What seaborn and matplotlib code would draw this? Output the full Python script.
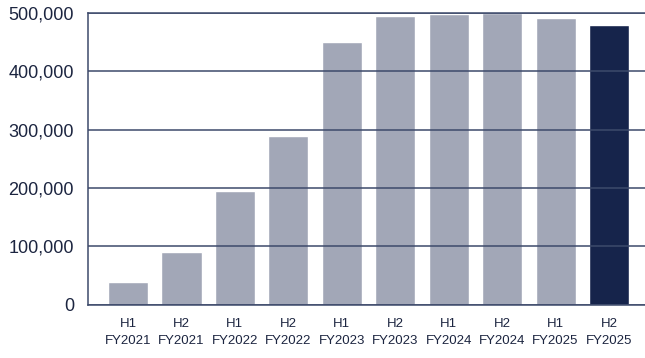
import matplotlib
matplotlib.use("Agg")
import matplotlib.pyplot as plt
import seaborn as sns
import pandas as pd
from matplotlib.ticker import FuncFormatter

# Half-year values
periods = ["H1\nFY2021", "H2\nFY2021", "H1\nFY2022", "H2\nFY2022", "H1\nFY2023",
           "H2\nFY2023", "H1\nFY2024", "H2\nFY2024", "H1\nFY2025", "H2\nFY2025"]
values = [39000, 90000, 195000, 289000, 450000, 495000, 498500, 500000, 491500, 479500]
y_ticks = [0, 100000, 200000, 300000, 400000, 500000]

grey = "#a2a7b7"
navy = "#16244b"
line_col = "#3d4a6b"
text_col = "#1c2540"
bar_colors = [grey] * (len(periods) - 1) + [navy]

df = pd.DataFrame({"period": periods, "value": values})

sns.set_theme(style="white")
plt.rcParams["font.family"] = ["Liberation Sans", "DejaVu Sans"]

fig = plt.figure(figsize=(6.45, 3.58), dpi=100)
ax = fig.add_axes([88 / 645, 53.4 / 358, 557 / 645, (304.6 - 13.2) / 358])

sns.barplot(data=df, x="period", y="value", hue="period", palette=bar_colors,
            width=0.75, legend=False, saturation=1, ax=ax)

ax.set_xlim(-0.749, 9.674)
ax.set_ylim(0, 500000)
ax.set_yticks(y_ticks)
ax.yaxis.set_major_formatter(FuncFormatter(lambda v, _: f"{int(v):,}"))
ax.set_xlabel("")
ax.set_ylabel("")

ax.set_axisbelow(False)
ax.yaxis.grid(True, color=line_col, linewidth=1.1)
ax.xaxis.grid(False)

for side in ["left", "bottom", "top"]:
    ax.spines[side].set_visible(True)
    ax.spines[side].set_color(line_col)
    ax.spines[side].set_linewidth(1.1)
ax.spines["right"].set_visible(False)

ax.tick_params(axis="y", length=0, pad=10, labelsize=13, labelcolor=text_col)
ax.tick_params(axis="x", length=0, pad=10, labelsize=9.5, labelcolor=text_col)
for lbl in ax.get_xticklabels():
    lbl.set_linespacing(1.45)

fig.savefig("out.png", dpi=100)
